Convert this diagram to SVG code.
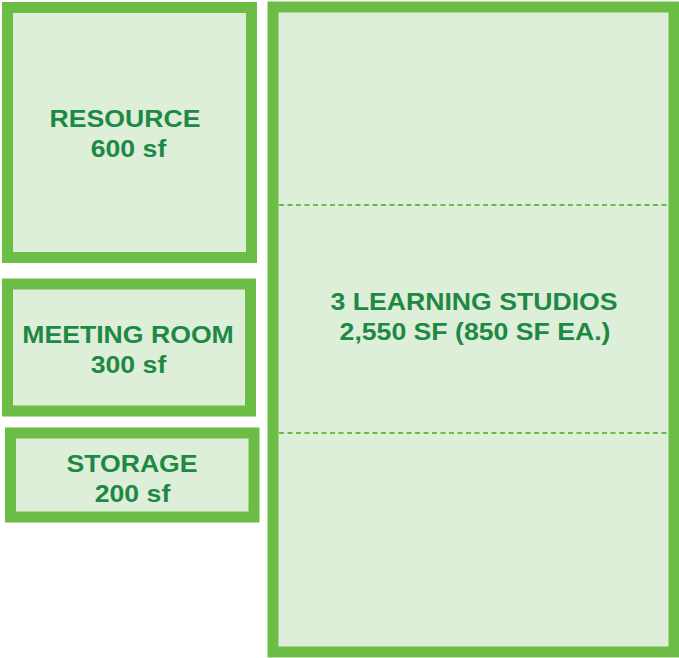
<svg xmlns="http://www.w3.org/2000/svg" width="679" height="658" viewBox="0 0 679 658">
<style>
.room{fill:#DDEFD8;stroke:#6BBD45;stroke-width:11}
.div{stroke:#6BBD45;stroke-width:2;stroke-dasharray:5 3.5;fill:none}
.lbl{font-family:"Liberation Sans",Arial,sans-serif;font-weight:bold;font-size:24px;fill:#1E8845;text-anchor:middle}
</style>
<rect width="679" height="658" fill="#FFFFFF"/>
<g id="resource">
<rect class="room" x="7.5" y="7.5" width="244" height="250"/>
<text class="lbl" transform="translate(125,127) scale(1.11,1)">RESOURCE</text>
<text class="lbl" transform="translate(128.5,157) scale(1.11,1)">600 sf</text>
</g>
<g id="meeting-room">
<rect class="room" x="7.5" y="284" width="243" height="127"/>
<text class="lbl" transform="translate(128,343) scale(1.11,1)">MEETING ROOM</text>
<text class="lbl" transform="translate(128.5,373) scale(1.11,1)">300 sf</text>
</g>
<g id="storage">
<rect class="room" x="10.5" y="433" width="243.5" height="84"/>
<text class="lbl" transform="translate(132,472) scale(1.11,1)">STORAGE</text>
<text class="lbl" transform="translate(132.5,502) scale(1.11,1)">200 sf</text>
</g>
<g id="learning-studios">
<rect class="room" x="273" y="7" width="401" height="645"/>
<text class="lbl" transform="translate(474,310) scale(1.11,1)">3 LEARNING STUDIOS</text>
<text class="lbl" transform="translate(475,340) scale(1.11,1)">2,550 SF (850 SF EA.)</text>
</g>
<g id="connectors">
<line class="div" x1="279" y1="205" x2="669" y2="205"/>
<line class="div" x1="279" y1="433" x2="669" y2="433"/>
</g>
</svg>
